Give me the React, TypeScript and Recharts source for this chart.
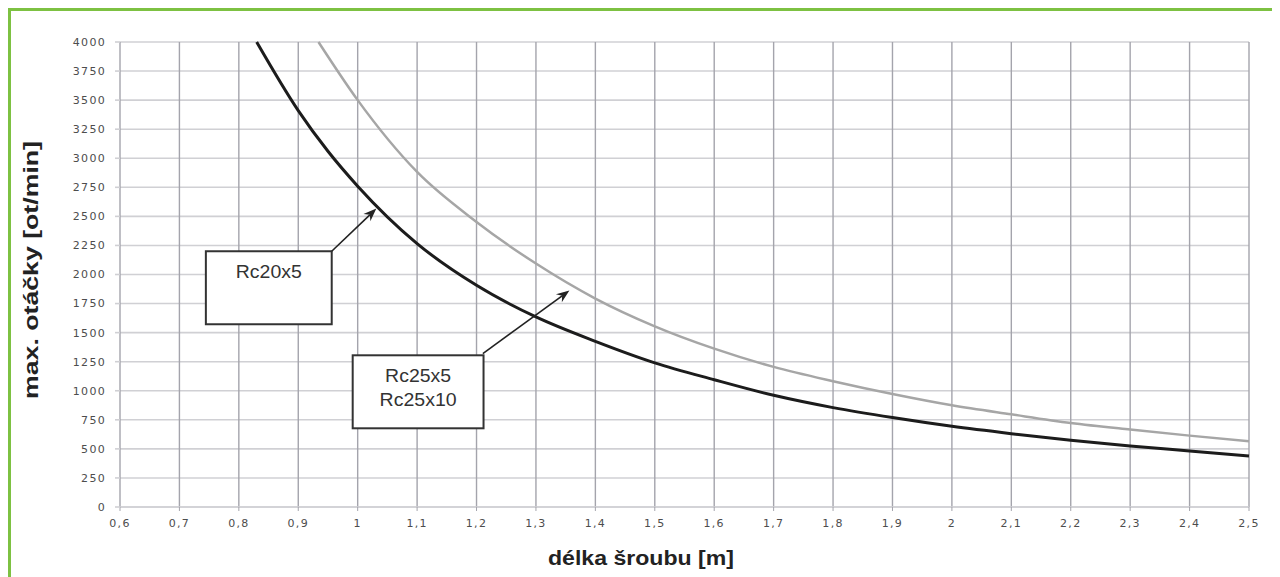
import React from 'react';
import {
  LineChart,
  Line,
  XAxis,
  YAxis,
  CartesianGrid,
  ReferenceArea,
  ReferenceLine,
} from 'recharts';

// screw length [m] -> max speed [rpm]
const xTicks = [0.6, 0.7, 0.8, 0.9, 1, 1.1, 1.2, 1.3, 1.4, 1.5, 1.6, 1.7, 1.8, 1.9, 2, 2.1, 2.2, 2.3, 2.4, 2.5];
const yTicks = [0, 250, 500, 750, 1000, 1250, 1500, 1750, 2000, 2250, 2500, 2750, 3000, 3250, 3500, 3750, 4000];

const rc20x5Length = [0.83, 0.9, 0.95, 1, 1.1, 1.2, 1.3, 1.4, 1.5, 1.6, 1.7, 1.8, 1.9, 2, 2.1, 2.2, 2.3, 2.4, 2.5];
const rc20x5Rpm = [4000, 3410, 3060, 2760, 2266, 1907, 1635, 1425, 1240, 1095, 961, 855, 769, 694, 631, 574, 525, 482, 439];

const rc25Length = [0.934, 1, 1.1, 1.2, 1.3, 1.4, 1.5, 1.6, 1.7, 1.8, 1.9, 2, 2.1, 2.2, 2.3, 2.4, 2.5];
const rc25Rpm = [4000, 3500, 2882, 2452, 2094, 1793, 1554, 1362, 1205, 1082, 972, 875, 797, 723, 666, 614, 565];

const rc20x5Data = rc20x5Length.map((x, i) => ({ x, rpm: rc20x5Rpm[i] }));
const rc25Data = rc25Length.map((x, i) => ({ x, rpm: rc25Rpm[i] }));

const tickStyle = { fontFamily: 'DejaVu Sans', fontSize: 11, fill: '#4d4d4d', letterSpacing: 1.3 };
const fmt = (v: number) => String(v).replace('.', ',');

// annotation boxes (data coords) and their text
const boxes = [
  { x1: 0.7445, x2: 0.9563, y1: 1572, y2: 2200, lines: ['Rc20x5'], widths: [66] },
  { x1: 0.9916, x2: 1.2118, y1: 677, y2: 1305, lines: ['Rc25x5', 'Rc25x10'], widths: [66, 77] },
];
const arrows = [
  { from: { x: 0.9563, y: 2200 }, to: { x: 1.0314, y: 2567 } },
  { from: { x: 1.2106, y: 1320 }, to: { x: 1.3563, y: 1862 } },
];

const Arrow = (props: any) => {
  const { x1, y1, x2, y2 } = props;
  const a = Math.atan2(y2 - y1, x2 - x1);
  const len = 13;
  const half = 5;
  const bx = x2 - len * Math.cos(a);
  const by = y2 - len * Math.sin(a);
  const nx = x2 - 9 * Math.cos(a);
  const ny = y2 - 9 * Math.sin(a);
  const px = -Math.sin(a) * half;
  const py = Math.cos(a) * half;
  return (
    <g>
      <line x1={x1} y1={y1} x2={nx} y2={ny} stroke="#222" strokeWidth={1.6} />
      <polygon
        points={`${x2},${y2} ${bx + px},${by + py} ${nx},${ny} ${bx - px},${by - py}`}
        fill="#222"
      />
    </g>
  );
};

const makeBox = (lines: string[], widths: number[]) => (props: any) => {
  const { x, y, width, height } = props;
  return (
    <g>
      <rect x={x} y={y} width={width} height={height} fill="#fff" stroke="#333" strokeWidth={2} />
      {lines.map((t, i) => (
        <text
          key={t}
          x={x + width / 2}
          y={y + 27 + i * 24}
          textAnchor="middle"
          fontFamily="Liberation Sans, Arial"
          fontSize={18}
          fill="#333"
          textLength={widths[i]}
          lengthAdjust="spacingAndGlyphs"
        >
          {t}
        </text>
      ))}
    </g>
  );
};

export default function App() {
  return (
    <div style={{ position: 'relative', width: 1272, height: 569 }}>
      <div
        style={{
          position: 'absolute',
          left: 0,
          top: 0,
          width: 1272,
          height: 569,
          borderTop: '3px solid #7dc142',
          borderLeft: '3px solid #7dc142',
          boxSizing: 'border-box',
        }}
      />
      <div style={{ position: 'absolute', left: 0, top: 0 }}>
        <LineChart width={1272} height={569} margin={{ top: 34, right: 31, bottom: 40, left: 0 }}>
          <CartesianGrid horizontal vertical={false} stroke="#d0d0d4" strokeWidth={1.6} />
          <CartesianGrid horizontal={false} vertical stroke="#a4a4ac" strokeWidth={1.4} />
          <XAxis
            type="number"
            dataKey="x"
            domain={[0.6, 2.5]}
            ticks={xTicks}
            tickFormatter={fmt}
            interval={0}
            height={30}
            tick={tickStyle}
            tickSize={4}
            tickMargin={8}
            axisLine={{ stroke: '#d0d0d4', strokeWidth: 1.6 }}
            tickLine={{ stroke: '#a4a4ac' }}
          />
          <YAxis
            type="number"
            domain={[0, 4000]}
            ticks={yTicks}
            interval={0}
            width={112}
            tick={tickStyle}
            tickSize={5}
            tickMargin={9}
            axisLine={false}
            tickLine={{ stroke: '#d0d0d4', strokeWidth: 1.6 }}
          />
          <Line
            data={rc25Data}
            dataKey="rpm"
            type="monotone"
            stroke="#a6a6a6"
            strokeWidth={2.5}
            dot={false}
            isAnimationActive={false}
          />
          <Line
            data={rc20x5Data}
            dataKey="rpm"
            type="monotone"
            stroke="#1c1c1c"
            strokeWidth={3}
            dot={false}
            isAnimationActive={false}
          />
          {arrows.map((a, i) => (
            <ReferenceLine key={'a' + i} segment={[a.from, a.to]} shape={Arrow} />
          ))}
          {boxes.map((b, i) => (
            <ReferenceArea
              key={'b' + i}
              x1={b.x1}
              x2={b.x2}
              y1={b.y1}
              y2={b.y2}
              shape={makeBox(b.lines, b.widths)}
            />
          ))}
        </LineChart>
      </div>
      <svg
        width={1272}
        height={569}
        style={{ position: 'absolute', left: 0, top: 0, pointerEvents: 'none' }}
      >
        <text
          x={29.7}
          y={262}
          transform="rotate(-90, 29.7, 262)"
          textAnchor="middle"
          fontFamily="Liberation Sans, Arial"
          fontWeight="bold"
          fontSize={20}
          fill="#222"
          textLength={258}
          lengthAdjust="spacingAndGlyphs"
        >
          max. otáčky [ot/min]
        </text>
        <text
          x={633}
          y={557}
          textAnchor="middle"
          fontFamily="Liberation Sans, Arial"
          fontWeight="bold"
          fontSize={19.5}
          fill="#222"
          textLength={186}
          lengthAdjust="spacingAndGlyphs"
        >
          délka šroubu [m]
        </text>
      </svg>
    </div>
  );
}
